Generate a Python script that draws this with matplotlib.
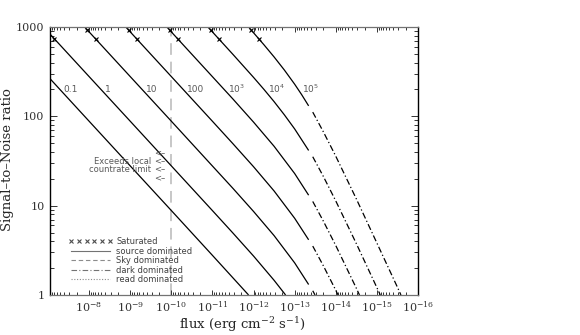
import numpy as np
import matplotlib
matplotlib.use("Agg")
import matplotlib.pyplot as plt
from matplotlib.lines import Line2D
from matplotlib.ticker import LogLocator, FuncFormatter, NullFormatter

plt.rcParams['font.family'] = ['DejaVu Serif']
plt.rcParams['mathtext.fontset'] = 'dejavuserif'

# exposure-time labels of the curves
time_labels = ['0.1', '1', '10', '100', '$10^3$', '$10^4$', '$10^5$']

# source-dominated parts (solid): flux (erg cm^-2 s^-1) and S/N
src_flux = [
    [8.91e-8, 1e-8, 1e-9, 1e-10, 1e-11, 1.32e-12],
    [8.91e-8, 1e-8, 1e-9, 1e-10, 1e-11, 3.16e-12, 1e-12, 3.16e-13, 1.66e-13],
    [1.28e-8, 1e-8, 1e-9, 1e-10, 1e-11, 3.16e-12, 1e-12, 3.16e-13, 1e-13, 4.57e-14],
    [1.28e-9, 1e-9, 1e-10, 1e-11, 3.16e-12, 1e-12, 3.16e-13, 1e-13, 4.57e-14],
    [1.28e-10, 1e-10, 1e-11, 3.16e-12, 1e-12, 3.16e-13, 1e-13, 4.57e-14],
    [1.29e-11, 1e-11, 3.16e-12, 1e-12, 5.62e-13, 3.16e-13, 1.78e-13, 1e-13, 4.57e-14],
    [1.32e-12, 1e-12, 5.62e-13, 3.16e-13, 1.78e-13, 1e-13, 6.76e-14, 4.57e-14],
]
src_snr = [
    [264, 88.3, 27.9, 8.83, 2.78, 1.0],
    [833, 279, 88.3, 27.9, 8.81, 4.93, 2.73, 1.46, 1.0],
    [1000, 883, 279, 88.3, 27.8, 15.6, 8.62, 4.62, 2.29, 1.31],
    [1000, 883, 279, 88.1, 49.3, 27.3, 14.6, 7.23, 4.15],
    [1000, 882, 278, 156, 86.2, 46.2, 22.9, 13.1],
    [1000, 881, 493, 273, 201, 146, 104, 72.3, 41.5],
    [1000, 862, 635, 462, 330, 229, 175, 131],
]

# dark-dominated parts (dash-dot)
dark_flux = [
    [],
    [],
    [3.63e-14, 3.19e-14],
    [3.63e-14, 2.0e-14, 1e-14, 8.79e-15],
    [3.63e-14, 2.0e-14, 1e-14, 3.16e-15, 2.65e-15],
    [3.63e-14, 2.0e-14, 1e-14, 3.16e-15, 1e-15, 8.26e-16],
    [3.63e-14, 2.0e-14, 1e-14, 3.16e-15, 1e-15, 3.16e-16, 2.6e-16],
]
dark_snr = [
    [],
    [],
    [1.115, 1.0],
    [3.53, 2.12, 1.13, 1.0],
    [11.15, 6.70, 3.58, 1.19, 1.0],
    [35.3, 21.2, 11.3, 3.76, 1.21, 1.0],
    [111.5, 67.0, 35.8, 11.9, 3.82, 1.22, 1.0],
]

# saturation marks (S/N levels on each saturated curve)
sat_snr = [925, 735]
# local countrate limit
limit_flux = 1e-10
limit_text = ['Exceeds local', 'countrate limit']
limit_arrow_snr = [38.8, 31.6, 25.7, 20.4]
label_snr = 202

legend_labels = ['Saturated', 'source dominated', 'Sky dominated',
                 'dark dominated', 'read dominated']

W, H = 580, 335
fig = plt.figure(figsize=(W / 100, H / 100), dpi=100)
ax = fig.add_axes([50 / W, 1 - 295 / H, 368 / W, 268 / H])

ax.set_xscale('log')
ax.set_yscale('log')
ax.set_xlim(10 ** -7.05, 1e-16)
ax.set_ylim(1, 1000)

dashdot = (0, (5, 2, 1, 2))
for i in range(len(time_labels)):
    ax.plot(src_flux[i], src_snr[i], color='black', lw=0.9, solid_capstyle='butt')
    if dark_flux[i]:
        ax.plot(dark_flux[i], dark_snr[i], color='black', lw=0.9, linestyle=dashdot)
    # saturation crosses, placed along the first segment of the curve
    if i >= 1:
        x0, x1 = np.log10(src_flux[i][0]), np.log10(src_flux[i][1])
        y0, y1 = np.log10(src_snr[i][0]), np.log10(src_snr[i][1])
        for s in sat_snr:
            xs = x0 + (np.log10(s) - y0) * (x1 - x0) / (y1 - y0)
            ax.plot([10 ** xs], [s], marker='x', color='black', ms=3.5, mew=0.8,
                    linestyle='None')
    # curve label
    lf = np.log10(src_flux[i])[::-1]
    ls = np.log10(src_snr[i])[::-1]
    xl = 10 ** np.interp(np.log10(label_snr), ls, lf)
    ax.annotate(time_labels[i], xy=(xl, label_snr), xytext=(3, 0),
                textcoords='offset points', ha='left', va='center',
                fontsize=6.5, color='0.35', family='DejaVu Sans',
                math_fontfamily='dejavusans')

# countrate limit line
ax.axvline(limit_flux, color='0.78', lw=1.4, linestyle=(0, (6, 3.5)), zorder=0)
for s in limit_arrow_snr:
    ax.annotate('<\u2013', xy=(limit_flux, s), xytext=(-4, 0),
                textcoords='offset points', ha='right', va='center',
                fontsize=6, color='0.35', family='DejaVu Sans')
for txt, s in zip(limit_text, limit_arrow_snr[1:3]):
    ax.annotate(txt, xy=(limit_flux, s), xytext=(-14.5, 0),
                textcoords='offset points', ha='right', va='center',
                fontsize=6, color='0.35', family='DejaVu Sans')

# legend
handles = [
    Line2D([], [], color='0.3', marker='x', ms=3, mew=0.8, linestyle='None'),
    Line2D([], [], color='0.45', lw=0.8),
    Line2D([], [], color='0.55', lw=0.8, linestyle=(0, (4, 2.5))),
    Line2D([], [], color='0.45', lw=0.8, linestyle=dashdot),
    Line2D([], [], color='0.55', lw=0.8, linestyle=(0, (1, 1.5))),
]
leg = ax.legend(handles, legend_labels, loc='upper left',
                bbox_to_anchor=(0.05, 0.215), frameon=False, numpoints=6,
                prop={'family': 'DejaVu Sans', 'size': 6},
                handlelength=5.3, handletextpad=0.45, labelspacing=0.05,
                borderpad=0, borderaxespad=0)
for t in leg.get_texts():
    t.set_color('0.25')

# axes styling
ax.xaxis.set_major_locator(LogLocator(base=10, numticks=20))
ax.xaxis.set_minor_locator(LogLocator(base=10, subs=np.arange(2, 10), numticks=20))
ax.xaxis.set_minor_formatter(NullFormatter())
ax.yaxis.set_major_formatter(FuncFormatter(lambda v, p: f'{v:g}'))
ax.yaxis.set_minor_formatter(NullFormatter())
ax.tick_params(which='both', direction='in', top=True, right=True,
               labelsize=8, colors='0.2', width=0.7)
ax.tick_params(axis='x', which='major', length=3.5, pad=3.5)
ax.tick_params(axis='x', which='minor', length=2)
ax.tick_params(axis='y', which='major', length=5, pad=4)
ax.tick_params(axis='y', which='minor', length=3)
for side in ['left', 'right']:
    ax.spines[side].set_color('black')
    ax.spines[side].set_linewidth(1.0)
for side in ['top', 'bottom']:
    ax.spines[side].set_color('0.45')
    ax.spines[side].set_linewidth(0.9)

ax.set_xlabel('flux (erg cm$^{-2}$ s$^{-1}$)', fontsize=9.5, color='0.15')
ax.set_ylabel('Signal\u2013to\u2013Noise ratio', fontsize=9.5, color='0.15')
ax.xaxis.set_label_coords(0.522, -0.076)
ax.yaxis.set_label_coords(-0.097, 0.507)

fig.savefig('out.png', dpi=100)
